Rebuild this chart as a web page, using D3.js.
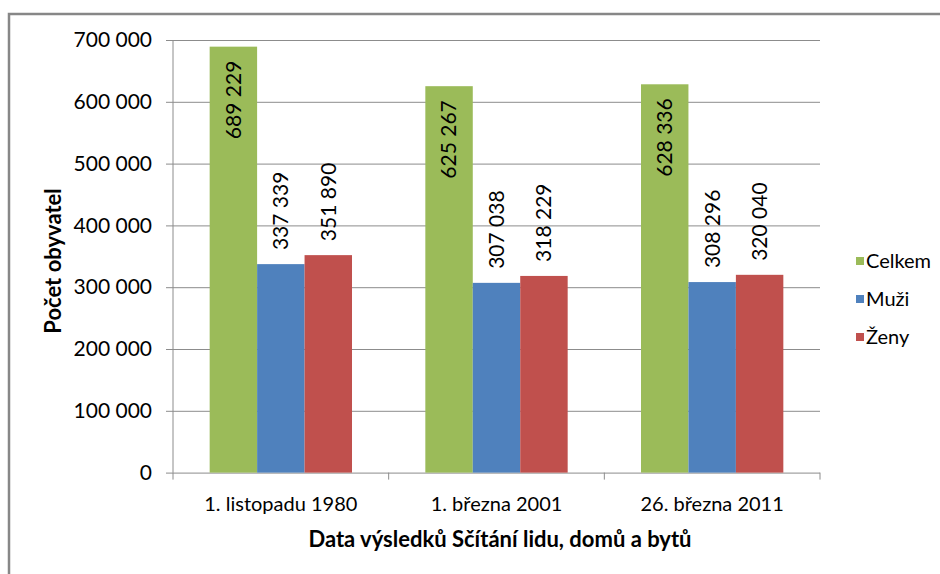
<!DOCTYPE html>
<html>
<head>
<meta charset="utf-8">
<script src="https://cdn.jsdelivr.net/npm/d3@7"></script>
<style>
  body { margin: 0; background: #fff; }
  text { font-family: Lato, "Open Sans", sans-serif; fill: #000; }
</style>
</head>
<body>
<svg></svg>
<script>
// data
var categories = ["1. listopadu 1980", "1. března 2001", "26. března 2011"];
var seriesNames = ["Celkem", "Muži", "Ženy"];
var celkem = [689229, 625267, 628336];
var muzi = [337339, 307038, 308296];
var zeny = [351890, 318229, 320040];
var yTicks = [0, 100000, 200000, 300000, 400000, 500000, 600000, 700000];
var colors = ["#9BBB59", "#4F81BD", "#C0504D"];

var svgWidth = 940, svgHeight = 574;
var plotLeft = 173, plotRight = 820, plotTop = 40, plotBottom = 472.6; // "top" is taken by window.top

var svg = d3.select("svg")
    .attr("width", svgWidth)
    .attr("height", svgHeight);

// czech number format, space as thousands separator
var cz = d3.formatLocale({ decimal: ",", thousands: "\u00a0", grouping: [3], currency: ["", " Kč"] });
var fmt = cz.format(",d");

// outer frame (cut by the picture edge on the right and bottom)
svg.append("rect")
    .attr("x", 9).attr("y", 14)
    .attr("width", 960).attr("height", 600)
    .attr("fill", "none")
    .attr("stroke", "#878787")
    .attr("stroke-width", 2.5);

var x0 = d3.scaleBand()
    .domain(categories)
    .range([plotLeft, plotRight])
    .paddingInner(0.34)
    .paddingOuter(0.17);

var x1 = d3.scaleBand()
    .domain(seriesNames)
    .range([0, x0.bandwidth()]);

var yScale = d3.scaleLinear()
    .domain([0, 700000])
    .range([plotBottom, plotTop]);

// gridlines + y axis
var yAxis = d3.axisLeft(yScale)
    .tickValues(yTicks)
    .tickSize(-(plotRight - plotLeft + 7))
    .tickPadding(14)
    .tickFormat(fmt);

var gy = svg.append("g")
    .attr("transform", "translate(" + (plotLeft - 7) + ",0)")
    .call(yAxis);
gy.select(".domain").remove();
gy.selectAll(".tick line").attr("stroke", "#8c8c8c").attr("stroke-width", 1);
gy.selectAll(".tick text").attr("font-size", 21).attr("x", -14)
    .style("font-family", "Lato, sans-serif").attr("fill", "#000");

svg.append("line")
    .attr("x1", plotLeft).attr("x2", plotLeft)
    .attr("y1", plotTop).attr("y2", plotBottom)
    .attr("stroke", "#8c8c8c");

// x axis: separators between categories
var sep = categories.map(function (d) { return x0(d) - x0.step() * 0.17; });
sep.push(plotRight);
svg.selectAll(".sep")
    .data(sep)
    .enter()
    .append("line")
    .attr("x1", function (d) { return d; })
    .attr("x2", function (d) { return d; })
    .attr("y1", plotBottom)
    .attr("y2", plotBottom + 7)
    .attr("stroke", "#8c8c8c");

svg.selectAll(".cat")
    .data(categories)
    .enter()
    .append("text")
    .attr("x", function (d) { return x0(d) + x0.bandwidth() / 2; })
    .attr("y", plotBottom + 38)
    .attr("text-anchor", "middle")
    .attr("font-size", 20)
    .text(function (d) { return d; });

// bars
var rows = categories.map(function (c, i) {
    return { cat: c, values: [celkem[i], muzi[i], zeny[i]] };
});

var groups = svg.selectAll(".grp")
    .data(rows)
    .enter()
    .append("g")
    .attr("transform", function (d) { return "translate(" + x0(d.cat) + ",0)"; });

groups.selectAll("rect")
    .data(function (d) { return d.values; })
    .enter()
    .append("rect")
    .attr("x", function (d, i) { return x1(seriesNames[i]); })
    .attr("y", function (d) { return yScale(d); })
    .attr("width", x1.bandwidth())
    .attr("height", function (d) { return plotBottom - yScale(d); })
    .attr("fill", function (d, i) { return colors[i]; });

// value labels, rotated; inside the top for Celkem, above the bar for the rest
groups.selectAll(".val")
    .data(function (d) { return d.values; })
    .enter()
    .append("text")
    .attr("transform", function (d, i) {
        var cx = x1(seriesNames[i]) + x1.bandwidth() / 2;
        var cy = i === 0 ? yScale(d) + 14 : yScale(d) - 14;
        return "translate(" + cx + "," + cy + ") rotate(-90)";
    })
    .attr("text-anchor", function (d, i) { return i === 0 ? "end" : "start"; })
    .attr("dy", "0.35em")
    .attr("font-size", 21)
    .text(function (d) { return fmt(d); });

// axis titles
svg.append("text")
    .attr("transform", "translate(61,261) rotate(-90)")
    .attr("text-anchor", "middle")
    .attr("font-size", 22)
    .attr("font-weight", "bold")
    .text("Počet obyvatel");

svg.append("text")
    .attr("x", 500)
    .attr("y", 547)
    .attr("text-anchor", "middle")
    .attr("font-size", 22)
    .attr("font-weight", "bold")
    .text("Data výsledků Sčítání lidu, domů a bytů");

// legend
var legend = svg.selectAll(".leg")
    .data(seriesNames)
    .enter()
    .append("g")
    .attr("transform", function (d, i) { return "translate(856," + (261 + i * 38) + ")"; });

legend.append("rect")
    .attr("x", 0).attr("y", -4)
    .attr("width", 8).attr("height", 8)
    .attr("fill", function (d, i) { return colors[i]; });

legend.append("text")
    .attr("x", 10)
    .attr("dy", "0.35em")
    .attr("font-size", 20)
    .text(function (d) { return d; });
</script>
</body>
</html>
